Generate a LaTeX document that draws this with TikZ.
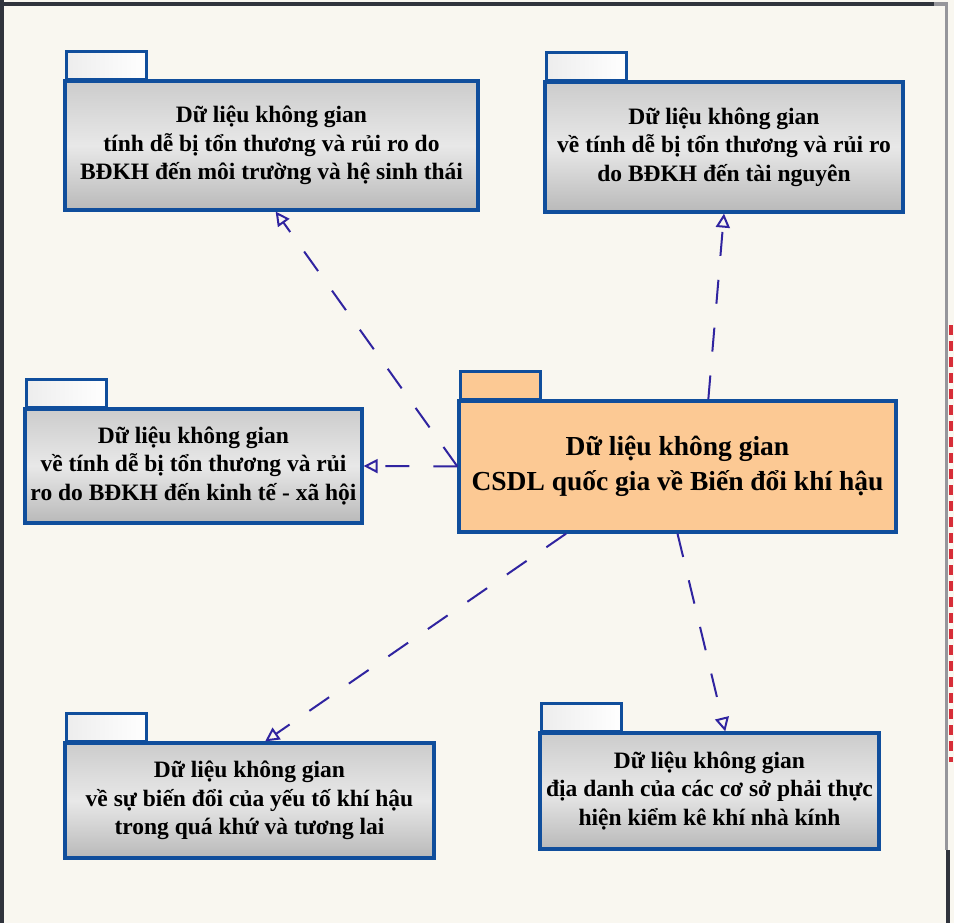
\documentclass[tikz,border=0pt]{standalone}
\usepackage{fontspec}
\setmainfont{Liberation Serif}
\usetikzlibrary{arrows.meta,calc}

\definecolor{bg}{RGB}{249,247,240}
\definecolor{frame}{RGB}{48,52,60}
\definecolor{framegrey}{RGB}{150,150,155}
\definecolor{pkgblue}{RGB}{16,78,156}
\definecolor{linkblue}{RGB}{48,36,160}
\definecolor{peach}{RGB}{252,201,148}
\definecolor{marker}{RGB}{215,45,55}

\tikzset{
  x=1pt, y=-1pt,
  pkgbody/.style={draw=pkgblue, line width=3.2pt, inner sep=0pt, align=center,
    font=\bfseries\fontsize{23.5}{28.5}\selectfont,
    top color=gray!40, bottom color=gray!55, middle color=gray!18},
  pkgtab/.style={draw=pkgblue, line width=3.2pt, inner sep=0pt, anchor=south west,
    minimum width=80pt, minimum height=28pt, left color=gray!14, right color=white},
  mainbody/.style={pkgbody, fill=peach, top color=peach, bottom color=peach, middle color=peach,
    font=\bfseries\fontsize{27.5}{35}\selectfont},
  maintab/.style={pkgtab, left color=peach, right color=peach},
  dep/.style={draw=linkblue, line width=2pt, dash pattern=on 24pt off 24pt,
    -{Triangle[open, length=14pt, width=14pt, line width=2pt]}},
}

\begin{document}
\begin{tikzpicture}
  % canvas and window frame
  \fill[bg] (0,0) rectangle (954,923);
  \useasboundingbox (0,0) rectangle (954,923);
  \fill[frame] (0,0) rectangle (4,923);
  \fill[frame] (0,2) rectangle (934,6);
  \fill[framegrey] (934,2) rectangle (948,6);
  \fill[framegrey] (945,2) rectangle (948,850);
  \fill[frame] (946,850) rectangle (950,923);
  \draw[marker, line width=4pt, dash pattern=on 10pt off 6pt] (950.5,325) -- (950.5,762);

  % packages: tab first, then body
  \node[pkgtab] (t1) at (65,81) {};
  \node[pkgbody, minimum width=413pt, minimum height=129pt] (b1) at (271.5,145.5)
    {Dữ liệu không gian\\tính dễ bị tổn thương và rủi ro do\\BĐKH đến môi trường và hệ sinh thái};

  \node[pkgtab] (t2) at (545,82) {};
  \node[pkgbody, minimum width=358pt, minimum height=130pt] (b2) at (724,147)
    {Dữ liệu không gian\\về tính dễ bị tổn thương và rủi ro\\do BĐKH đến tài nguyên};

  \node[maintab] (t3) at (459,401) {};
  \node[mainbody, minimum width=437pt, minimum height=131pt] (c) at (677.5,466.5)
    {Dữ liệu không gian\\CSDL quốc gia về Biến đổi khí hậu};

  \node[pkgtab] (t4) at (25,409) {};
  \node[pkgbody, minimum width=337pt, minimum height=114pt] (b4) at (193.5,466)
    {Dữ liệu không gian\\về tính dễ bị tổn thương và rủi\\ro do BĐKH đến kinh tế - xã hội};

  \node[pkgtab] (t5) at (65,743) {};
  \node[pkgbody, minimum width=369pt, minimum height=115pt] (b5) at (249.5,800.5)
    {Dữ liệu không gian\\về sự biến đổi của yếu tố khí hậu\\trong quá khứ và tương lai};

  \node[pkgtab] (t6) at (540,733) {};
  \node[pkgbody, minimum width=339pt, minimum height=116pt] (b6) at (709.5,791)
    {Dữ liệu không gian\\địa danh của các cơ sở phải thực\\hiện kiểm kê khí nhà kính};

  % connector end points on the box borders
  \coordinate (e1) at ($(b1.south west)!0.51!(b1.south east)$);
  \coordinate (s2) at ($(c.north west)!0.57!(c.north east)$);
  \coordinate (s5) at ($(c.south west)!0.247!(c.south east)$);
  \coordinate (e5) at ($(b5.north west)!0.542!(b5.north east)$);
  \coordinate (e6) at ($(b6.north west)!0.546!(b6.north east)$);

  % dependencies from the central package
  \draw[dep] (c.west) -- (e1);
  \draw[dep] (s2) -- (b2.south);
  \draw[dep] (c.west) -- (b4.east);
  \draw[dep] (s5) -- (e5);
  \draw[dep] (c.south) -- (e6);
\end{tikzpicture}
\end{document}
